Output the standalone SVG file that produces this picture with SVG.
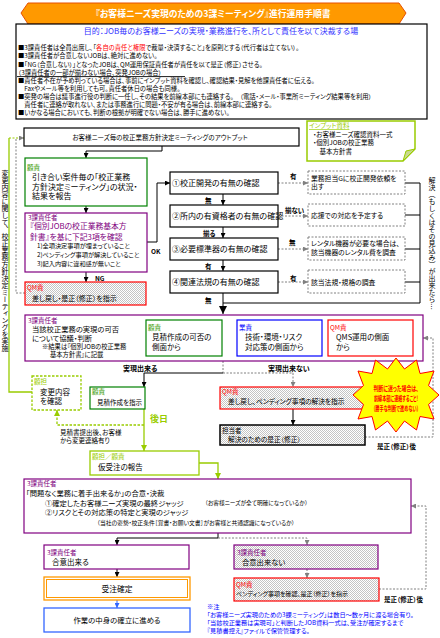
<svg xmlns="http://www.w3.org/2000/svg" width="440" height="638" viewBox="0 0 440 638">
<style>
text{font-family:"Noto Sans CJK JP","Noto Sans",sans-serif;font-feature-settings:"palt";fill:#000}
.s65{font-size:6.5px}.s7{font-size:7px}.s75{font-size:7.5px}.s8{font-size:8px}
.pt{font-size:6.3px}
.b{font-weight:bold}
.pu{fill:#800080}.gr{fill:#339900}.yg{fill:#99CC00}.rd{fill:#FF0000}.bl{fill:#0000FF}
.box{fill:#fff;stroke-width:1.2}
.k{stroke:#000}.p{stroke:#800080}.g{stroke:#008000}.y{stroke:#99CC00}.r{stroke:#FF0000}.u{stroke:#0000FF}
.h{fill:url(#hatch)}
.dbox{fill:#fff;stroke:#808080;stroke-width:1;stroke-dasharray:2,1.5}
.ln{fill:none;stroke:#000;stroke-width:1}
.dl{fill:none;stroke:#808080;stroke-width:1;stroke-dasharray:2,1.5}
.gl{fill:none;stroke:#99CC00;stroke-width:1.3}
.vt{writing-mode:vertical-rl;font-size:7px}
.wt{font-size:7px;font-weight:bold;fill:#FF0000}
</style>
<defs>
<pattern id="hatch" width="2" height="2" patternUnits="userSpaceOnUse"><rect width="2" height="2" fill="#fff"/><rect width="1" height="1" fill="#c4c4c4"/><rect x="1" y="1" width="1" height="1" fill="#c4c4c4"/></pattern>
<marker id="ab" viewBox="0 0 10 10" refX="10" refY="5" markerWidth="5" markerHeight="5" markerUnits="userSpaceOnUse" orient="auto"><path d="M0,0L10,5L0,10z" fill="#000"/></marker>
<marker id="abig" viewBox="0 0 10 10" refX="10" refY="5" markerWidth="8" markerHeight="9" markerUnits="userSpaceOnUse" orient="auto"><path d="M0,0L10,5L0,10z" fill="#000"/></marker>
<marker id="ag" viewBox="0 0 10 10" refX="10" refY="5" markerWidth="5" markerHeight="5" markerUnits="userSpaceOnUse" orient="auto"><path d="M0,0L10,5L0,10z" fill="#808080"/></marker>
<marker id="agr" viewBox="0 0 10 10" refX="10" refY="5" markerWidth="6" markerHeight="6" markerUnits="userSpaceOnUse" orient="auto"><path d="M0,0L10,5L0,10z" fill="#99CC00"/></marker>
<marker id="abl" viewBox="0 0 10 10" refX="10" refY="5" markerWidth="5" markerHeight="5" markerUnits="userSpaceOnUse" orient="auto"><path d="M0,0L10,5L0,10z" fill="#3366FF"/></marker>
</defs>
<rect width="440" height="638" fill="#fff"/>

<g id="title">
<path d="M21,13 L28,3 H399 L406,13 L399,24 H28 Z" fill="#FF9900" stroke="#E65100" stroke-width="1"/>
<text x="213" y="16.5" text-anchor="middle" class="b" style="font-size:8.8px;fill:#fff">『お客様ニーズ実現のための3課ミーティング』進行運用手順書</text>
</g>

<g id="purpose">
<rect x="16" y="24" width="411" height="95" class="box k"/>
<text x="221" y="34" text-anchor="middle" class="s8" style="fill:#3333FF">目的：JOB毎のお客様ニーズの実現・業務進行を、所として責任を以て決裁する場</text>
<text x="18" y="50.3" class="pt">■3課責任者は全員出席し、「<tspan class="rd">各自の責任と権限</tspan>で裁量・決済すること」を原則とする（代行者は立てない）。</text>
<text x="18" y="58.4" class="pt">■3課責任者が合意しないJOBは、絶対に進めない。</text>
<text x="18" y="66.5" class="pt">■「NG（合意しない）」となったJOBは、QM運用保証責任者が責任を以て是正（修正）させる。</text>
<text x="18" y="74.6" class="pt">（3課責任者の一部が揃わない場合、突発JOBの場合）</text>
<line x1="17" y1="76.6" x2="185" y2="76.6" stroke="#000" stroke-width="0.9"/>
<text x="18" y="82.8" class="pt">■責任者不在が予め判っている場合は、事前にインプット資料を確認し、確認結果・見解を他課責任者に伝える。</text>
<text x="18" y="90.9" class="pt">　Faxやメール等を利用しても可。責任者休日の場合も同様。</text>
<text x="18" y="99" class="pt">■突発の場合は議事進行役の判断に一任し、その結果を前線本部にも連絡する。　（電話・メール・事業所ミーティング結果等を利用）</text>
<text x="18" y="107.2" class="pt">　責任者に連絡が取れない、または事務進行に問題・不安が有る場合は、前線本部に連絡する。</text>
<text x="18" y="115.3" class="pt">■いかなる場合においても、判断の根拠が明確でない場合は、勝手に進めない。</text>
</g>

<g id="input-note">
<path d="M307,121 H415 V149 L403,161 H307 Z" fill="#fff" stroke="#99CC00" stroke-width="1.5"/>
<path d="M403,161 L406,151 L415,149 Z" fill="#c9d98f" stroke="#99CC00" stroke-width="1"/>
<text x="309" y="128" class="s65 yg" text-decoration="underline">インプット資料</text>
<text x="313" y="136.5" class="s65">・お客様ニーズ確認資料一式</text>
<text x="313" y="145" class="s65">・個別JOBの校正業務</text>
<text x="313" y="153.5" class="s65">　基本方針書</text>
</g>

<g id="connectors">
<path d="M162,146 V151 H86 V158" class="ln" marker-end="url(#ab)"/>
<path d="M86,206 V213" class="ln" marker-end="url(#ab)"/>
<path d="M86,272 V282" class="ln" marker-end="url(#ab)"/>
<path d="M147,242 H157 V183 H170" class="ln" marker-end="url(#ab)"/>
<path d="M223,194 V205" class="ln" marker-end="url(#ab)"/>
<path d="M223,227 V238" class="ln" marker-end="url(#ab)"/>
<path d="M223,260 V271" class="ln" marker-end="url(#ab)"/>
<path d="M223,293 V314" class="ln" marker-end="url(#abig)"/>
<path d="M278,183 H308" class="dl" marker-end="url(#ag)"/>
<path d="M278,216 H308" class="dl" marker-end="url(#ag)"/>
<path d="M278,249 H308" class="dl" marker-end="url(#ag)"/>
<path d="M278,282 H308" class="dl" marker-end="url(#ag)"/>
<path d="M405,183 H420 M405,215 H420 M405,249 H420 M405,282 H420 M420,183 V303 H223" class="ln"/>
<path d="M25,293 H16 V138" class="dl"/>
<path d="M32,392 H9 V138" class="gl"/>
<path d="M9,138 H24" fill="none" stroke="#99CC00" stroke-width="1.2" stroke-dasharray="2,1.5" marker-end="url(#ag)"/>
<path d="M223,361 V373" class="dl"/>
<path d="M223,373 H144 V387" class="ln" marker-end="url(#ab)"/>
<path d="M223,373 H293 V387" class="dl" marker-end="url(#ag)"/>
<path d="M293,409 V425" class="ln" marker-end="url(#ab)"/>
<path d="M365,437 H433 V338 H423" class="dl" marker-end="url(#ag)"/>
<path d="M144,409 V451" class="gl" marker-end="url(#agr)"/>
<path d="M144,425 H57 V410" class="gl" stroke-dasharray="2.5,1.5" marker-end="url(#agr)"/>
<path d="M199,463 H218 V479" class="gl" marker-end="url(#agr)"/>
<path d="M218,533 V538 H117 V545" class="ln" marker-end="url(#ab)"/>
<path d="M218,538 H307 V545" class="dl" marker-end="url(#ag)"/>
<path d="M117,569 V577" class="ln" marker-end="url(#ab)"/>
<path d="M117,600 V608" fill="none" stroke="#3366FF" stroke-width="1" marker-end="url(#abl)"/>
<path d="M307,569 V578" class="dl" marker-end="url(#ag)"/>
<path d="M379,589 H426 V506 H411" class="dl" marker-end="url(#ag)"/>
<text x="151" y="254" class="s65 b">OK</text>
<text x="95" y="281" class="s65 b">NG</text>
<text x="205" y="202.5" class="s65 b">無</text>
<text x="203" y="235.5" class="s65 b">揃る</text>
<text x="205" y="268.5" class="s65 b">有</text>
<text x="205" y="302.5" class="s65 b">無</text>
<text x="290" y="178.5" class="s65 b">有</text>
<text x="285" y="212.5" class="s65 b">揃ない</text>
<text x="289" y="245" class="s65 b">無</text>
<text x="290" y="280.5" class="s65 b">有</text>
<text x="123" y="370.5" class="s7 b">実現出来る</text>
<text x="268" y="370.5" class="s7 b">実現出来ない</text>
<text x="150" y="421.5" class="b yg" style="font-size:9px">後日</text>
<text x="60" y="434.5" class="s65">見積書提出後、お客様</text>
<text x="60" y="443" class="s65">から変更連絡有り</text>
<text x="377" y="448.5" class="s65 b">是正（修正）後</text>
<text x="384" y="601.5" class="s65 b">是正（修正）後</text>
<text x="5" y="170" class="vt">変更内容に関して、校正業務方針決定ミーティングを実施</text>
<text x="432" y="177" class="vt">解決（もしくはその見込み）が出来たら…</text>
</g>

<g id="n-output">
<rect x="24" y="128" width="275" height="18" class="box k"/>
<text x="160" y="139.5" text-anchor="middle" class="s65">お客様ニーズ毎の校正業務方針決定ミーティングのアウトプット</text>
</g>

<g id="n-report">
<rect x="25" y="158" width="122" height="48" class="box g"/>
<text x="27" y="169.5" class="s65 gr">顧責</text>
<text x="32" y="180" class="s8">引き合い案件毎の「校正業務</text>
<text x="32" y="189.5" class="s8">方針決定ミーティング」の状況・</text>
<text x="32" y="199" class="s8">結果を報告</text>
</g>

<g id="n-check3">
<rect x="25" y="213" width="122" height="59" class="box p"/>
<text x="28" y="219.5" class="s65 pu">3課責任者</text>
<text x="30" y="229.4" class="pu" style="font-size:7.8px">『個別JOBの校正業務基本方</text>
<text x="30" y="239.8" class="pu" style="font-size:7.8px">針書』を基に下記3項を確認</text>
<text x="37" y="248" style="font-size:6.2px">1)全項決定事項が埋まっていること</text>
<text x="37" y="256.8" style="font-size:6.2px">2)ペンディング事項が解決していること</text>
<text x="37" y="265.6" style="font-size:6.2px">3)記入内容に違和感が無いこと</text>
</g>

<g id="n-qm-return">
<rect x="25" y="282" width="121" height="23" class="box r h"/>
<text x="27" y="290" class="s65 rd">QM責</text>
<text x="32" y="300.5" class="s7">差し戻し・是正（修正）を指示</text>
</g>

<g id="n-c1"><rect x="170" y="172" width="108" height="22" class="box k"/><text x="172" y="186" class="s8">①校正開発の有無の確認</text></g>
<g id="n-c2"><rect x="170" y="205" width="108" height="22" class="box k"/><text x="172" y="219" class="s8">②所内の有資格者の有無の確認</text></g>
<g id="n-c3"><rect x="170" y="238" width="108" height="22" class="box k"/><text x="172" y="252" class="s8">③必要標準器の有無の確認</text></g>
<g id="n-c4"><rect x="170" y="271" width="108" height="22" class="box k"/><text x="172" y="285" class="s8">④関連法規の有無の確認</text></g>

<g id="n-d1"><rect x="308" y="171" width="97" height="23" class="dbox"/><text x="311" y="180.5" style="font-size:6.8px">業務担当Gに校正開発依頼を</text><text x="311" y="189" style="font-size:6.8px">出す</text></g>
<g id="n-d2"><rect x="308" y="204" width="97" height="22" class="dbox"/><text x="311" y="217.5" style="font-size:6.8px">応援での対応を予定する</text></g>
<g id="n-d3"><rect x="308" y="237" width="97" height="23" class="dbox"/><text x="311" y="246" style="font-size:6.8px">レンタル機器が必要な場合は、</text><text x="311" y="254.5" style="font-size:6.8px">該当機器のレンタル費を調査</text></g>
<g id="n-d4"><rect x="308" y="270" width="97" height="23" class="dbox"/><text x="311" y="284.5" style="font-size:6.8px">該当法規・規格の調査</text></g>

<g id="n-feasibility">
<rect x="25" y="315" width="398" height="46" class="box p"/>
<text x="28" y="322.5" class="s65 pu">3課責任者</text>
<text x="32" y="331.5" style="font-size:7.3px">当該校正業務の実現の可否</text>
<text x="32" y="340.5" style="font-size:7.3px">について協議・判断</text>
<text x="42" y="348.5" style="font-size:6.3px">※結果は『個別JOBの校正業務</text>
<text x="50" y="356.5" style="font-size:6.3px">基本方針書』に記載</text>
<rect x="146" y="320" width="76" height="36" class="box g"/>
<text x="148" y="330" class="s65 gr">顧責</text>
<text x="152" y="340" class="s75">見積作成の可否の</text>
<text x="152" y="349.5" class="s75">側面から</text>
<rect x="237" y="320" width="85" height="36" class="box u"/>
<text x="239" y="330" class="s65 bl">業責</text>
<text x="245" y="340" class="s75">技術・環境・リスク</text>
<text x="245" y="349.5" class="s75">対応策の側面から</text>
<rect x="328" y="320" width="85" height="36" class="box r"/>
<text x="330" y="330" class="s65 rd">QM責</text>
<text x="336" y="340" class="s75">QMS運用の側面</text>
<text x="336" y="349.5" class="s75">から</text>
</g>

<g id="n-change">
<rect x="32" y="376" width="49" height="34" fill="#fff" stroke="#99CC00" stroke-width="1.3" stroke-dasharray="2.5,1.5"/>
<text x="34" y="384" class="s65 yg">顧担</text>
<text x="40" y="394.5" class="s75">変更内容</text>
<text x="40" y="404" class="s75">を確認</text>
</g>

<g id="n-estimate">
<rect x="90" y="387" width="55" height="22" class="box g"/>
<text x="92" y="394" class="s65 gr">顧責</text>
<text x="97" y="404.5" style="font-size:6.5px">見積作成を指示</text>
</g>

<g id="n-qm-pending">
<rect x="220" y="387" width="146" height="22" class="box r h"/>
<text x="222" y="394" class="s65 rd">QM責</text>
<text x="228" y="404" style="font-size:6.7px">差し戻し、ペンディング事項の解決を指示</text>
</g>

<g id="n-staff">
<rect x="220" y="425" width="145" height="20" fill="url(#hatch)" stroke="#000" stroke-width="1.5"/>
<text x="222" y="432.5" class="s65">担当者</text>
<text x="228" y="442" style="font-size:6.7px">解決のための是正（修正）</text>
</g>

<g id="n-warning">
<polygon points="396,358 404.5,369 416.5,360 420,373.5 434,371 428.5,385.5 439,395 428.5,404.5 434,419 420,416.5 416.5,430 404.5,421 396,432 387.5,421 375.5,430 372,416.5 358,419 363.5,404.5 353,395 363.5,385.5 358,371 372,373.5 375.5,360 387.5,369" fill="#FFFF00" stroke="#FF0000" stroke-width="1"/>
<text transform="translate(396,390.5) scale(0.7,1)" text-anchor="middle" class="wt">判断に迷った場合は、</text>
<text transform="translate(396,400.5) scale(0.58,1)" text-anchor="middle" class="wt">前線本部に連絡すること!</text>
<text transform="translate(396,410.5) scale(0.6,1)" text-anchor="middle" class="wt">（勝手な判断で進めない）</text>
</g>

<g id="n-provisional">
<rect x="90" y="451" width="109" height="24" fill="#fff" stroke="#99CC00" stroke-width="1.3"/>
<text x="92" y="459" class="s65 yg">顧担／顧責</text>
<text x="98" y="469.5" class="s75">仮受注の報告</text>
</g>

<g id="n-decision">
<rect x="24" y="479" width="387" height="54" class="box p"/>
<text x="27" y="486" class="s65 pu">3課責任者</text>
<text x="26" y="496" style="font-size:7.3px">「問題なく業務に着手出来るか」の合意・決裁</text>
<text x="45" y="505.5" style="font-size:7.3px">①確定したお客様ニーズ実現の最終ジャッジ</text>
<text x="205" y="505" style="font-size:5.7px">（お客様ニーズが全て明確になっているか）</text>
<text x="45" y="514.5" style="font-size:7.3px">②リスクとその対応策の特定と実現のジャッジ</text>
<text x="97" y="525" style="font-size:5.8px">（当社の姿勢・校正条件［覚書・お願い文書］がお客様と共通認識になっているか）</text>
</g>

<g id="n-agree">
<rect x="44" y="545" width="145" height="24" class="box p"/>
<text x="47" y="555" class="s65 pu">3課責任者</text>
<text x="52" y="564.5" class="s75">合意出来る</text>
</g>

<g id="n-order">
<rect x="44" y="577" width="146" height="23" fill="#fff" stroke="#FF9900" stroke-width="1.3"/>
<rect x="46.5" y="579.5" width="141" height="18" fill="none" stroke="#FF9900" stroke-width="1"/>
<text x="117" y="591.5" text-anchor="middle" style="font-size:7.8px">受注確定</text>
</g>

<g id="n-work">
<rect x="44" y="608" width="146" height="24" fill="#fff" stroke="#3366FF" stroke-width="1.3"/>
<text x="117" y="622.5" text-anchor="middle" style="font-size:7.4px">作業の中身の確立に進める</text>
</g>

<g id="n-disagree">
<rect x="234" y="545" width="144" height="24" class="box p h"/>
<text x="237" y="555" class="s65 pu">3課責任者</text>
<text x="242" y="564.5" style="font-size:7.3px">合意出来ない</text>
</g>

<g id="n-qm-confirm">
<rect x="234" y="578" width="145" height="23" class="box r h"/>
<text x="236" y="587" class="s65 rd">QM責</text>
<text x="236" y="596" style="font-size:6px">ペンディング事項を確認、是正（修正）を指示</text>
</g>

<g id="note">
<text x="207" y="608.5" class="bl" style="font-size:6.2px">※注</text>
<text x="207" y="616.5" class="bl" style="font-size:6.2px">「お客様ニーズ実現のための3課ミーティング」は数日～数ヶ月に渡る場合有り。</text>
<text x="207" y="624.5" class="bl" style="font-size:6.2px">「当該校正業務は実現可」と判断したJOB資料一式は、受注が確定するまで</text>
<text x="207" y="632.5" class="bl" style="font-size:6.2px">『見積書控え』ファイルで保管管理する。</text>
</g>
</svg>
